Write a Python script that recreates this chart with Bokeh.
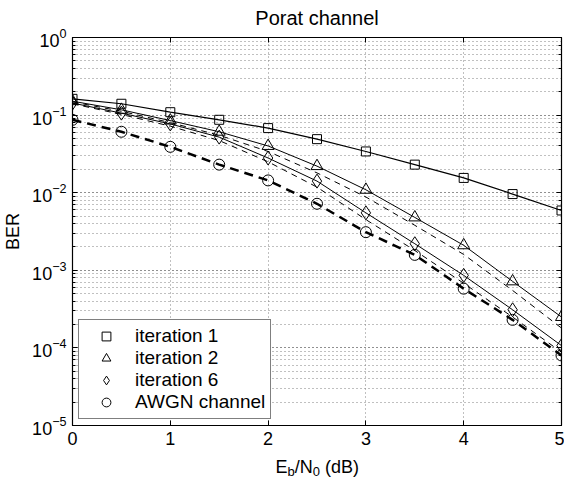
from bokeh.plotting import figure
from bokeh.models import (LinearAxis, LogAxis, Legend, LegendItem,
                          FixedTicker, Range1d)
from bokeh.layouts import column
from bokeh.core.properties import value
from bokeh.embed import file_html
from bokeh.resources import INLINE

# ---- data ----
ebn0 = [0, 0.5, 1, 1.5, 2, 2.5, 3, 3.5, 4, 4.5, 5]
ber_iter1 = [0.162, 0.140, 0.109, 0.087, 0.068, 0.049, 0.034, 0.023, 0.0155, 0.0096, 0.0059]
ber_iter2 = [0.151, 0.117, 0.085, 0.061, 0.040, 0.022, 0.0109, 0.0048, 0.0021, 0.00072, 0.00025]
ber_iter6 = [0.143, 0.106, 0.077, 0.052, 0.028, 0.0141, 0.0055, 0.0022, 0.00086, 0.00031, 0.000107]
ber_awgn = [0.087, 0.061, 0.039, 0.023, 0.0144, 0.0072, 0.0031, 0.00158, 0.00058, 0.00023, 0.00008]
# thin dashed companion curves (no legend entry)
ber_dash_a = [0.148, 0.112, 0.080, 0.055, 0.034, 0.018, 0.0088, 0.0038, 0.0016, 0.00055, 0.00018]
ber_dash_b = [0.140, 0.102, 0.072, 0.047, 0.025, 0.0118, 0.0045, 0.0018, 0.00068, 0.00025, 0.000088]

legend_labels = ["iteration 1", "iteration 2", "iteration 6", "AWGN channel"]
x_ticks = [0, 1, 2, 3, 4, 5]
title_text = "Porat channel"
y_label = "BER"
# x-axis label E_b/N_0 (dB), split into normal and subscript pieces
xlabel_pieces = ["E", "b", "/N", "0", "(dB)"]
xlabel_is_sub = [False, True, False, True, False]
xlabel_gap_before = [0, 0, 0, 0, 0.278]   # a word space before "(dB)", in em

FONT = "Liberation Sans"
TICK_FS = 18
MAIN_FS = 18
SUB_FS = 13

W = 564
H_MAIN = 452
H_LAB = 479 - H_MAIN

p = figure(width=W, height=H_MAIN, y_axis_type="log",
           x_range=Range1d(0, 5), y_range=Range1d(1e-5, 1),
           output_backend="svg", toolbar_location=None,
           min_border_left=69, min_border_right=3,
           min_border_top=37, min_border_bottom=H_MAIN - 425)

p.title.text = title_text
p.title.align = "center"
p.title.vertical_align = "top"
p.title.text_font = FONT
p.title.text_font_size = "20px"
p.title.text_font_style = "normal"
p.title.text_color = "black"
p.title.standoff = 13

p.outline_line_color = "black"
p.outline_line_width = 1.2
p.background_fill_color = "white"
p.border_fill_color = "white"

# grids
p.xgrid.ticker = FixedTicker(ticks=[1, 2, 3, 4])
p.xgrid.grid_line_color = "#808080"
p.xgrid.grid_line_dash = "1 3"
p.ygrid.grid_line_color = "#808080"
p.ygrid.grid_line_dash = "1 3"
p.ygrid.minor_grid_line_color = "#808080"
p.ygrid.minor_grid_line_dash = "1 3"

def style_axis(ax, labels=True):
    ax.axis_line_color = "black"
    ax.major_tick_in = 5
    ax.major_tick_out = 0
    ax.minor_tick_in = 3
    ax.minor_tick_out = 0
    ax.major_tick_line_color = "black"
    ax.minor_tick_line_color = "black"
    ax.major_label_text_font = FONT
    if labels:
        ax.major_label_text_font_size = f"{TICK_FS}px"
        ax.major_label_text_color = "black"
        ax.major_label_standoff = 6
    else:
        ax.major_label_text_font_size = "1px"
        ax.major_label_text_alpha = 0
        ax.major_label_standoff = 0

p.xaxis.ticker = FixedTicker(ticks=x_ticks)
style_axis(p.xaxis[0])
p.xaxis.minor_tick_line_color = None
style_axis(p.yaxis[0])
p.yaxis.axis_label = y_label
p.yaxis.axis_label_text_font = FONT
p.yaxis.axis_label_text_font_size = f"{MAIN_FS}px"
p.yaxis.axis_label_text_font_style = "normal"
p.yaxis.axis_label_text_color = "black"
p.yaxis.axis_label_standoff = 6

top = LinearAxis(ticker=FixedTicker(ticks=x_ticks))
style_axis(top, labels=False)
top.minor_tick_line_color = None
p.add_layout(top, "above")
right = LogAxis()
style_axis(right, labels=False)
p.add_layout(right, "right")

# curves
p.line(ebn0, ber_dash_a, line_color="black", line_width=1, line_dash="6 5")
p.line(ebn0, ber_dash_b, line_color="black", line_width=1, line_dash="6 5")
p.line(ebn0, ber_iter1, line_color="black", line_width=1.2)
p.line(ebn0, ber_iter2, line_color="black", line_width=1)
p.line(ebn0, ber_iter6, line_color="black", line_width=1)
p.line(ebn0, ber_awgn, line_color="black", line_width=2.5, line_dash="9 6")

r1 = p.scatter(ebn0, ber_iter1, marker="square", size=9, fill_alpha=0, line_color="black", line_width=1)
r2 = p.scatter(ebn0, ber_iter2, marker="triangle", size=12, fill_alpha=0, line_color="black", line_width=1)
r6 = p.scatter(ebn0, ber_iter6, marker="diamond", size=14, fill_alpha=0, line_color="black", line_width=1)
ra = p.scatter(ebn0, ber_awgn, marker="circle", size=11, fill_alpha=0, line_color="black", line_width=1)

legend = Legend(items=[LegendItem(label=legend_labels[0], renderers=[r1]),
                       LegendItem(label=legend_labels[1], renderers=[r2]),
                       LegendItem(label=legend_labels[2], renderers=[r6]),
                       LegendItem(label=legend_labels[3], renderers=[ra])],
                location="bottom_left", margin=6, padding=5, spacing=0,
                label_height=22, glyph_height=22, glyph_width=44,
                label_standoff=7, label_text_font=FONT, label_text_font_size="19px",
                label_text_color="black",
                border_line_color="black", border_line_width=1.5,
                background_fill_color="white", background_fill_alpha=1)
p.add_layout(legend, "center")

# ---- strip below the plot carrying the x-axis label with subscripts ----
q = figure(width=W, height=H_LAB, x_range=p.x_range, y_range=Range1d(0, H_LAB),
           output_backend="svg", toolbar_location=None,
           min_border_left=69, min_border_right=3, min_border_top=0, min_border_bottom=0)
q.axis.visible = False
q.grid.visible = False
q.outline_line_color = None
q.background_fill_color = "white"
q.border_fill_color = "white"

# cumulative offsets (Arial metrics) so the pieces run on one line
char_w = {"E": 0.667, "b": 0.556, "/": 0.278, "N": 0.722, "0": 0.556,
          " ": 0.278, "(": 0.333, "d": 0.556, "B": 0.667, ")": 0.333}
widths, gaps = [], []
for txt, sub, gap in zip(xlabel_pieces, xlabel_is_sub, xlabel_gap_before):
    fs = SUB_FS if sub else MAIN_FS
    widths.append(sum(char_w[c] for c in txt) * fs)
    gaps.append(gap * fs)
total_w = sum(widths) + sum(gaps)
centre_px = (561 - 69) / 2  # centre of the frame, in px from frame left
x_start = (centre_px - total_w / 2) / (561 - 69) * 5
baseline = H_LAB - 14
off = 0.0
for txt, sub, w, g in zip(xlabel_pieces, xlabel_is_sub, widths, gaps):
    off += g
    q.text(x=[x_start], y=[baseline - 5 if sub else baseline], text=[txt],
           x_offset=off, text_font=value(FONT),
           text_font_size=f"{SUB_FS if sub else MAIN_FS}px",
           text_baseline="alphabetic", text_align="left", text_color="black")
    off += w

open("out.html", "w").write(file_html(column(p, q, spacing=0), INLINE))
